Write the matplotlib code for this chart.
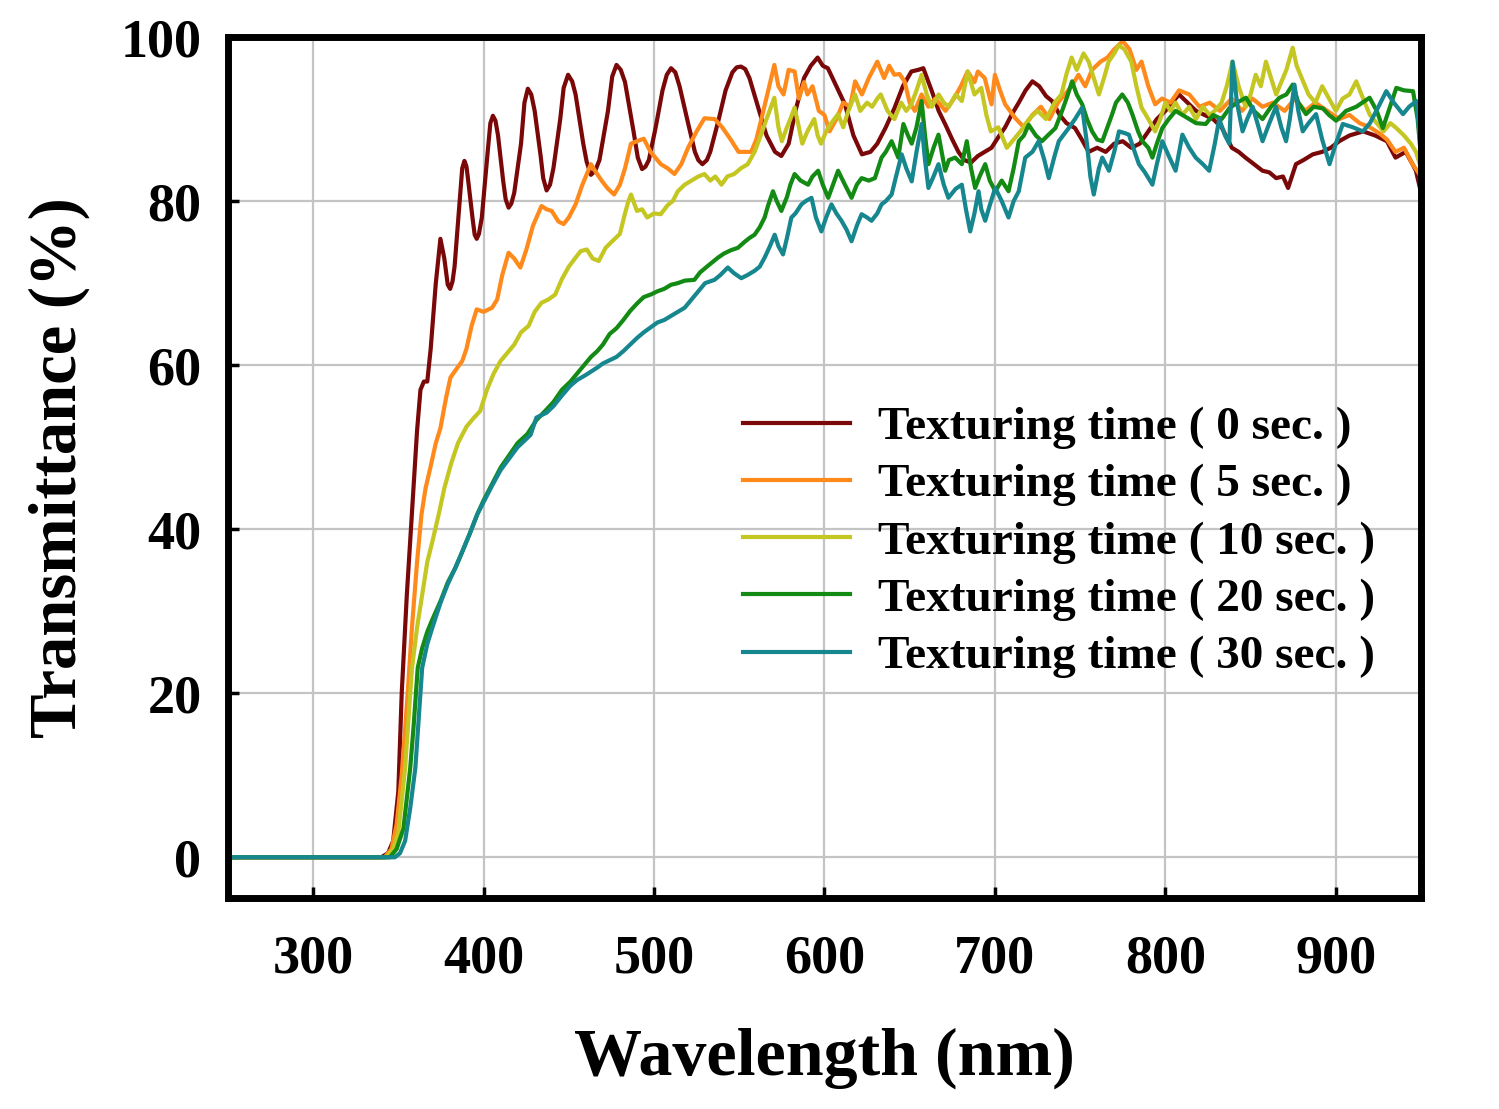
import matplotlib
matplotlib.use("Agg")
import matplotlib.pyplot as plt

plt.rcParams['font.family'] = ['Liberation Serif', 'DejaVu Serif']
plt.rcParams['font.weight'] = 'bold'

# 0 sec
wl_0 = [250, 300, 340, 344, 347, 350, 352, 355, 358, 361, 363, 365, 367, 369, 372, 374.7, 377, 379, 380.4, 381.8,
        383, 386, 387.5, 388.8, 390, 391, 393.5, 394.8, 396, 397.3, 399, 402, 404, 405.5, 407, 408.5, 411.5, 413,
        414.7, 416.3, 418, 422, 424, 426, 428, 430, 433.5, 435, 437, 439, 441, 445, 447, 449.6, 452, 454, 458.5,
        460.5, 463, 465.5, 468, 473, 475.5, 478, 480.5, 483, 488, 490.5, 493, 495, 497, 501, 505, 507.5, 510, 512.5,
        515, 520, 524, 526, 528.4, 531, 533, 538, 542, 546, 548.5, 551, 553.5, 556, 561, 566, 571, 574.7, 579, 583,
        588, 592, 596, 599, 602, 607, 612, 617, 622, 627, 631, 636, 641, 646, 651, 655, 658, 663, 667, 671, 675,
        678.6, 682, 686, 690, 694, 698, 702, 706, 710, 714, 718, 722, 726, 730, 733.5, 738, 742, 747, 751, 755,
        760, 765, 770, 775, 780, 785, 790, 795, 800, 804, 808, 813, 818, 823, 828, 833, 839, 843, 847, 852, 857,
        861, 865, 869, 872, 876.6, 881, 886.5, 892, 897, 902, 908, 916, 923, 930, 935, 941, 945, 947, 950]
t_0 = [0, 0, 0, 0.5, 2, 8, 20, 32, 42, 52, 57, 58, 58, 62, 70, 75.4, 73, 69.8, 69.3, 70.2,
       72, 80, 84, 84.9, 84.2, 82.5, 78, 75.9, 75.4, 76, 78, 85, 89.5, 90.4, 89.8, 88, 82.5, 80.2,
       79.2, 79.7, 81, 87, 92, 93.7, 93, 91, 85.5, 82.8, 81.3, 82, 84, 90, 93.8, 95.4, 94.6, 93, 87,
       84.8, 83.2, 83.7, 85, 91, 95.2, 96.6, 96, 94.5, 88.5, 85.3, 83.9, 84.2, 85, 89, 93.5, 95.4, 96.2, 95.7,
       94, 89.5, 86, 85, 84.5, 85, 86, 90, 93.5, 95.7, 96.3, 96.4, 96.1, 95, 91.5, 88, 86, 85.5, 87, 91,
       95, 96.5, 97.5, 96.5, 96.2, 94, 91.8, 88, 85.7, 86, 87, 89, 91.3, 94, 95.8, 96, 96.2, 93.4, 91, 89.3, 87.5,
       86, 85, 84.7, 85.5, 86, 86.5, 87.8, 89, 90.6, 92, 93.5, 94.6, 94, 92.8, 92.2, 90.5, 89.5, 88.9, 87.5, 86,
       86.5, 86, 87, 87.3, 86.5, 87, 88.5, 90, 91, 92, 93, 92, 91, 90.5, 90, 89, 86.5, 86, 85.3, 84.5, 83.7,
       83.5, 82.8, 83, 81.6, 84.5, 85, 85.7, 86, 86.5, 87.3, 88, 88.5, 88, 87.3, 85.3, 86, 84.5, 83.7, 81]

# 5 sec
wl_5 = [250, 300, 342, 346, 349, 352, 355.5, 358, 361, 363.6, 366, 368.8, 372, 374.7, 378, 380.6, 384, 387.5, 390,
        393, 396, 400, 405, 408, 411, 414.7, 418, 421.6, 425, 429, 434, 437, 440, 444, 447, 450, 454, 458, 463, 466,
        469.6, 473, 476.6, 480, 483, 486.5, 490, 494, 498, 504, 508, 512, 516, 520, 525, 529.6, 535.6, 540, 545,
        549.6, 557, 560, 563, 567, 570.6, 573, 576, 579, 582.5, 585, 588, 590, 593, 596.7, 600, 603, 607, 611, 615,
        618, 622, 626, 631, 635, 638, 641, 644, 647, 650, 653, 657, 661, 665, 671, 676, 680, 684, 688, 690, 694,
        698, 700, 703, 706, 712, 717, 722, 727, 732, 737, 741, 745, 749, 753, 757, 762, 766, 770, 775, 779, 783,
        786, 790, 794, 798, 803, 808, 814, 820, 826, 832, 839, 845, 851, 857, 863, 870, 876, 882, 888, 895, 902,
        908, 914, 920, 926, 930, 935, 940, 945, 949, 950]
t_5 = [0, 0, 0, 1, 4, 10, 20, 28, 36, 41.8, 45, 47.5, 50.5, 52.3, 56, 58.5, 59.5, 60.5, 62,
       64.8, 66.8, 66.5, 67, 68, 71, 73.7, 73, 71.9, 74, 77, 79.4, 79, 78.8, 77.5, 77.2, 78, 79.6, 82, 84.5, 83.5,
       82.4, 81.5, 80.8, 82, 84, 87, 87.3, 87.6, 86, 84.5, 84, 83.3, 84.5, 86.5, 88.5, 90.1, 90, 89, 87.5,
       86, 86, 87.5, 90, 93.5, 96.6, 94, 93, 96, 95.8, 92.5, 94.5, 93, 94, 91, 90.5, 88.5, 90, 92, 91.5,
       94.6, 93, 95, 97, 95, 96.5, 95.4, 95.5, 94.6, 92, 91, 93, 91.5, 92.5, 91, 92.5, 94, 95.8, 94.5, 95.8, 95,
       91.8, 95.4, 93.5, 91.8, 90.1, 89, 90.5, 91.5, 90, 92, 93, 94, 95.4, 94, 96, 97, 97.5, 98.5, 99.5, 98.5, 96,
       97, 94, 91.8, 92.5, 92, 93.5, 93, 91.5, 92, 91, 92.5, 91, 92.5, 91.5, 92, 91, 92.5, 91, 92, 91, 90,
       90.5, 89.5, 89, 88.2, 87.5, 86, 86.5, 84.5, 83.3, 83]

# 10 sec
wl_10 = [250, 300, 343, 347, 350, 354, 356, 358, 361, 364, 367, 370, 373.7, 377, 381, 385, 390, 394, 398, 402, 406,
         410, 414, 418, 422, 426.5, 430, 434, 438, 442, 446, 450, 454, 457, 460.6, 464, 467.6, 471.6, 474, 477.5,
         480, 483, 485, 486.5, 490, 493, 496, 500, 504, 508, 511, 514, 518, 522, 526, 529.6, 533, 536, 539.6, 543,
         547, 551, 555, 559, 563, 566, 570.6, 573, 575, 578, 580, 582.5, 585, 587, 590, 594, 596, 598, 601, 604,
         608, 611, 614, 618, 621, 625, 628, 631, 633, 637, 641, 645, 648, 651, 654, 657, 660, 663, 667, 670, 673,
         677, 680.6, 684, 688, 692, 695, 697.6, 702, 707, 711, 715, 720, 725, 730, 735, 739, 742, 745, 748, 752,
         755, 758, 761, 764, 766.7, 770, 772.6, 776, 780, 783, 786, 790, 794, 797, 800, 803, 806, 810, 814, 818,
         822, 826, 829, 833, 836, 839.4, 843, 847, 850, 853, 856, 859, 862, 865, 868, 871, 874.7, 877, 880, 884,
         888, 892, 896, 900, 904, 908, 912, 916, 920, 924, 928, 932, 935, 940, 944, 947, 950]
t_10 = [0, 0, 0, 1, 3, 10.9, 17, 23, 28, 32, 36, 38.5, 41.8, 45, 48, 50.5, 52.5, 53.5, 54.4, 57, 59,
        60.5, 61.5, 62.5, 64, 64.8, 66.5, 67.6, 68, 68.6, 70.5, 72, 73.1, 73.9, 74.1, 73, 72.7, 74.3, 74.8, 75.5,
        76, 78.5, 80, 80.8, 78.8, 79, 78, 78.5, 78.4, 79.5, 80, 81.2, 82, 82.5, 83, 83.3, 82.5, 83, 82, 83,
        83.3, 84, 84.5, 86, 88.2, 90, 92.6, 89, 87.3, 89, 90, 91.4, 89, 87, 88.5, 90, 88, 87, 88.5, 89.5,
        90.6, 89, 91, 93, 91, 92, 91.5, 92.5, 93, 91, 90, 92, 91, 91.8, 93.5, 95.4, 93, 91.5, 93, 92, 91.5,
        93, 92.2, 95.8, 93, 93.8, 90.5, 88.5, 89, 86.5, 87.5, 88.5, 90, 91, 90, 92, 93, 95.5, 97.5, 96, 98,
        97, 95, 93, 95, 97, 98, 99, 98.5, 97, 94, 91.4, 90, 88.5, 90, 92, 91, 92, 90.5, 91.5, 90,
        91.5, 90.5, 91, 92, 94, 97, 94, 91.5, 93, 95.4, 94, 97, 95, 93, 94.5, 96, 98.7, 96.5, 95, 93,
        92, 94, 92.5, 91, 92.5, 93, 94.6, 92.5, 90.5, 89.5, 88.5, 89.5, 89, 88, 87, 86, 84]

# 20 sec
wl_20 = [250, 300, 345, 349, 353, 357, 359, 361.4, 364, 367, 370, 374.7, 379, 383.5, 387, 392, 396.3, 400, 405, 410,
         415, 420, 425.7, 431, 437, 441, 446, 451, 455, 459, 463, 466.7, 470, 474, 478, 482, 486, 490, 494, 498,
         502, 506, 510, 514, 518, 523.7, 527, 531, 534, 537.5, 541, 545, 549.2, 553, 556, 559, 562, 564.9, 567,
         569.8, 572, 574.7, 578, 580, 582.5, 586, 590.4, 593, 596.3, 599, 602.2, 605, 608, 612, 615.9, 619, 621.8,
         626, 629.6, 633.5, 636, 639.4, 643.3, 646.3, 649, 651.2, 654, 657, 659, 661, 664, 666.9, 670.8, 673, 676.7,
         680.6, 683.5, 686, 688.4, 691, 694.3, 697, 700.2, 704, 708, 711, 714, 717, 719.8, 724, 727.6, 731, 735.5,
         739.4, 742, 745.3, 748, 751.2, 754, 757, 760, 763, 766, 768.8, 771, 774.7, 778, 780.6, 784, 786.5, 790,
         792.4, 795, 798.2, 802, 806, 810, 813.9, 818, 823.7, 828, 833, 837.5, 842, 847.3, 852, 857, 862, 866.9,
         871, 874.7, 878, 882.5, 887, 892.4, 896, 900.2, 906, 912, 919.8, 924, 927.6, 931, 935.5, 940, 945.3, 948,
         950]
t_20 = [0, 0, 0, 1, 3.5, 10.9, 16, 23.1, 25.5, 27.5, 29, 31.2, 33.5, 35.3, 37, 39.5, 41.8, 43.5, 45.5, 47.5,
        49, 50.5, 51.6, 53.3, 54.6, 55.5, 57, 58, 59, 60, 61, 61.7, 62.5, 63.8, 64.5, 65.5, 66.6, 67.5, 68.3, 68.6,
        69, 69.3, 69.8, 70, 70.3, 70.4, 71.3, 72, 72.5, 73.1, 73.6, 74, 74.3, 75, 75.5, 75.9, 76.8, 78, 79.5,
        81.2, 80, 78.8, 80.5, 82, 83.3, 82.5, 82, 83, 83.7, 82, 80.4, 82, 83.7, 82, 80.4, 82, 82.8,
        82.5, 82.8, 85.3, 86, 87.3, 85.3, 89.4, 88, 87, 89, 92.2, 88, 84.5, 86.5, 88.1, 83.7, 85, 85.3,
        84.5, 87.3, 84, 81.6, 83, 84.5, 82.5, 81.2, 82.5, 81.2, 84, 87.3, 88, 89.3, 88, 87.3, 88, 88.9,
        91, 92.5, 94.6, 93, 91.8, 90, 88.5, 87.5, 87.3, 89, 90.6, 92, 93, 92, 90.6, 88.5, 87.3, 86.5,
        85.3, 87, 88.9, 90, 91, 90.5, 90, 89.5, 89.4, 90.5, 90, 91.3, 92, 92.6, 91, 90, 91.5, 92.6,
        93, 94.2, 92, 90.6, 91.5, 91.3, 90.5, 89.8, 91, 91.5, 92.6, 91, 88.9, 91, 93.8, 93.5, 93.4, 90,
        85.3]

# 30 sec
wl_30 = [250, 300, 348, 351, 354, 357, 360, 362, 364, 367, 370, 374.7, 379, 383.5, 387, 392, 396.3, 400, 405, 410,
         415, 420, 427.6, 431, 437, 441, 446, 451, 455, 460, 466.7, 470, 474, 478, 482, 486, 490, 494, 498, 502,
         506, 510, 514, 518, 522, 526, 530, 535.5, 539, 543.3, 547, 551.2, 555, 559, 562, 564.9, 568, 570.8, 573,
         575.7, 578, 580.6, 583, 586.5, 589, 592.4, 595, 598.2, 601, 604.1, 607, 610, 613, 615.9, 619, 621.8, 625,
         627.6, 631, 633.5, 636, 639.4, 642, 645.3, 648, 651.2, 654, 657, 659, 661, 664, 666.9, 670, 672.7, 677,
         680.6, 683, 685.5, 688, 690.4, 692, 694.3, 697, 700.2, 704, 708, 711, 714, 717.8, 722, 725.7, 729, 731.6,
         735, 737.5, 740, 743.3, 747, 751.2, 754, 756, 758, 761, 763, 766.9, 770, 772.8, 776, 778.6, 782, 784.5,
         788, 792.4, 795, 798.2, 802, 806, 810, 814, 817.8, 822, 825.7, 829, 831.6, 835, 837.5, 839.4, 842, 845.3,
         848, 851.2, 854, 857, 861, 864.9, 868, 870.8, 873, 875.7, 878, 880.6, 884, 888.4, 892, 896.3, 900, 904.1,
         910, 915.9, 920, 925, 929.6, 934, 939.4, 943, 947.3, 950]
t_30 = [0, 0, 0, 0.5, 2, 6, 10.9, 17, 23.1, 26, 28, 31, 33.3, 35.3, 37, 39.5, 41.8, 43.3, 45.3, 47.2,
        48.6, 50, 51.5, 53.6, 54.2, 55, 56.3, 57.5, 58.2, 58.8, 59.7, 60.2, 60.6, 61, 61.7, 62.5, 63.3, 64, 64.6, 65.2,
        65.5, 66, 66.5, 67, 68, 69, 70, 70.4, 71, 71.9, 71.2, 70.6, 71, 71.5, 72, 73.1, 74.5, 75.9, 74.5,
        73.5, 75.5, 78, 78.5, 79.6, 80, 80.4, 78, 76.3, 78, 79.6, 78.5, 77.6, 76.5, 75.1, 77, 78.4, 78,
        77.6, 78.5, 79.6, 80, 80.8, 83, 85.7, 84, 82.4, 86, 89.4, 85, 81.6, 83, 84.5, 82, 80.4, 81.5,
        82, 79, 76.3, 78.5, 81.2, 79, 77.6, 79.5, 81.6, 80, 78, 80, 81.2, 85.3, 86, 87.3, 85, 82.8,
        85.5, 87.3, 88, 88.9, 90, 91.4, 87, 83, 80.8, 84, 85.3, 83.7, 86, 88.5, 88.3, 88.1, 86, 84.5,
        83.5, 82, 84.5, 87.3, 85.5, 83.7, 88.1, 86.5, 85.3, 84.5, 83.7, 87, 90, 88, 87, 97, 92, 88.5,
        90, 91.5, 89.5, 87.3, 89.5, 91.5, 89, 87.3, 90, 94.2, 91, 88.5, 89.5, 90.6, 87.5, 84.5, 87, 89.4,
        89, 88.5, 89.5, 91.5, 93.4, 92, 90.6, 91.5, 92.2, 86]

labels = ['Texturing time ( 0 sec. )', 'Texturing time ( 5 sec. )', 'Texturing time ( 10 sec. )',
          'Texturing time ( 20 sec. )', 'Texturing time ( 30 sec. )']
colors = ['#7a0808', '#ff8a1c', '#c4c622', '#138a13', '#16868f']

fig = plt.figure(figsize=(14.99, 11.09), dpi=100)
ax = fig.add_axes([0.152, 0.19, 0.796, 0.7766])

series = [(wl_0, t_0), (wl_5, t_5), (wl_10, t_10), (wl_20, t_20), (wl_30, t_30)]
for (w, t), c, lab in zip(series, colors, labels):
    ax.plot(w, t, color=c, lw=3, label=lab, solid_joinstyle='round')

ax.set_xlim(250, 950)
ax.set_ylim(-5, 100)
ax.set_xticks([300, 400, 500, 600, 700, 800, 900])
ax.set_yticks([0, 20, 40, 60, 80, 100])
ax.grid(True, color='#c4c4c4', lw=1.6)
ax.set_axisbelow(True)
for s in ax.spines.values():
    s.set_linewidth(5)
ax.tick_params(direction='in', length=8, width=2.5, labelsize=39)
ax.tick_params(axis='x', pad=26)
ax.tick_params(axis='y', pad=19)
for lab in ax.get_xticklabels() + ax.get_yticklabels():
    lab.set_fontweight('bold')

ax.set_xlabel('Wavelength (nm)', fontsize=49, fontweight='bold', labelpad=31)
ax.set_ylabel('Transmittance (%)', fontsize=48, fontweight='bold', labelpad=22)

ax.legend(loc='center left', bbox_to_anchor=(0.432, 0.4135), frameon=False,
          handlelength=2.25, handletextpad=0.6, labelspacing=0.3, borderpad=0, borderaxespad=0,
          prop={'size': 34, 'weight': 'bold'})

fig.savefig('out.png', dpi=100)
